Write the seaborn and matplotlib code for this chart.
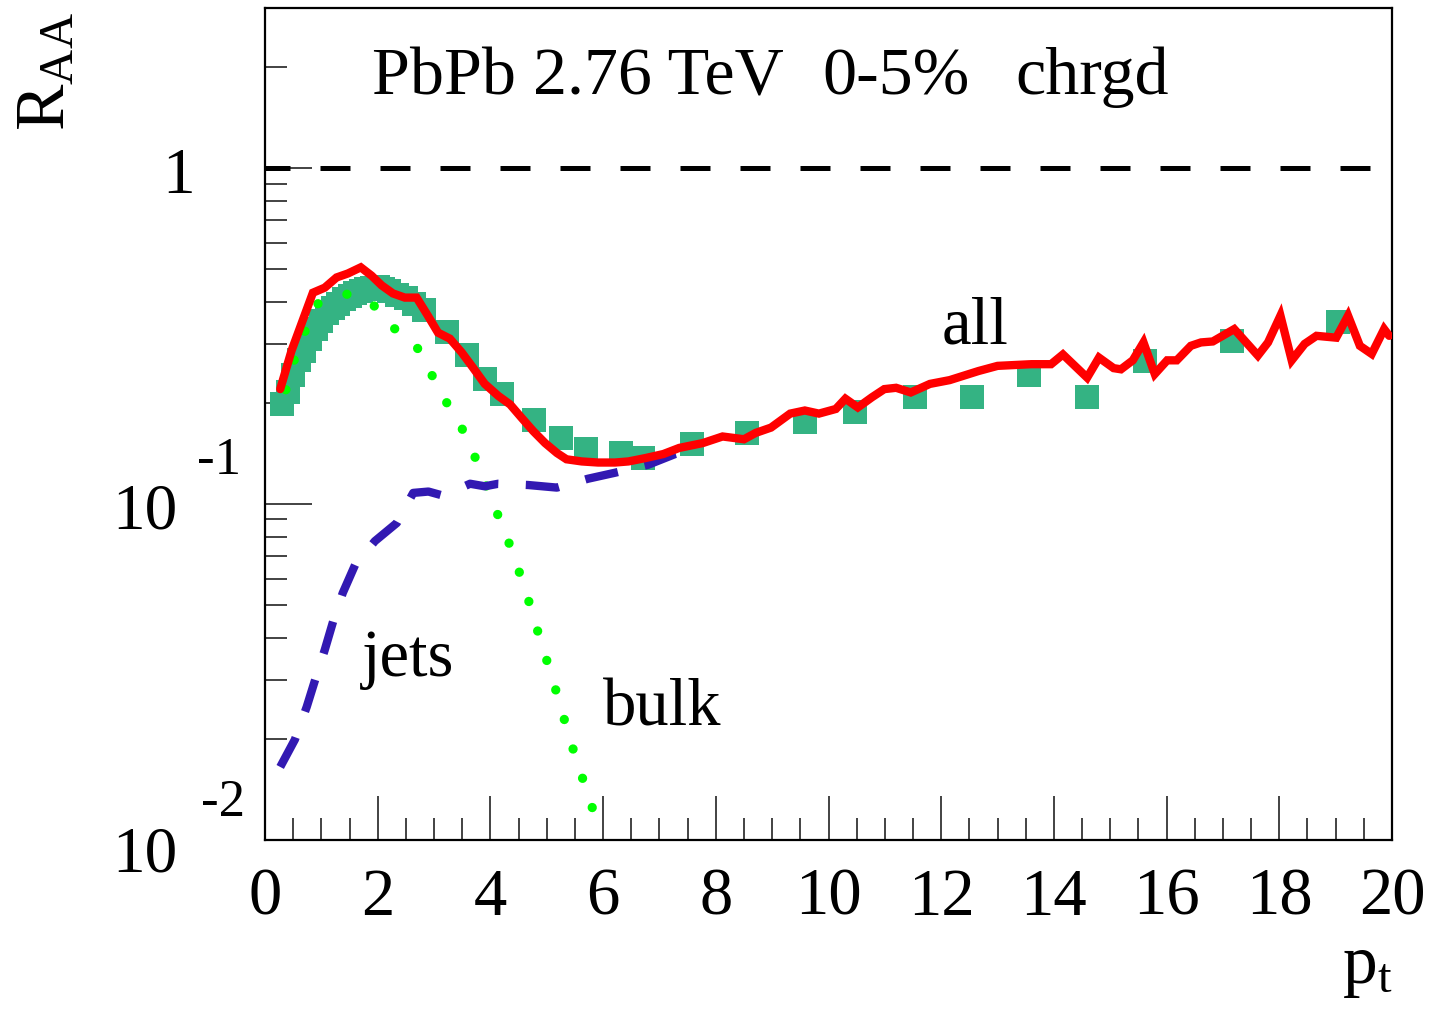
import numpy as np
import pandas as pd
import matplotlib
matplotlib.use("Agg")
import matplotlib.pyplot as plt
import seaborn as sns
from matplotlib.ticker import LogLocator, MultipleLocator, NullFormatter, FixedLocator

# ---------------- data ----------------
data_pt = [0.3, 0.4, 0.5, 0.6, 0.7, 0.8, 0.9, 1.0, 1.1, 1.2, 1.3, 1.4, 1.5, 1.6, 1.7,
           1.8, 1.9, 2.0, 2.1, 2.2, 2.35, 2.5, 2.65, 2.82, 3.23, 3.58, 3.90, 4.20,
           4.78, 5.25, 5.70, 6.32, 6.70, 7.58, 8.55, 9.59, 10.47, 11.53, 12.55,
           13.56, 14.59, 15.62, 17.16, 19.04]
data_raa = [0.198, 0.215, 0.243, 0.268, 0.285, 0.310, 0.333, 0.352, 0.370, 0.383,
            0.395, 0.407, 0.416, 0.424, 0.430, 0.436, 0.440, 0.442, 0.438, 0.430,
            0.420, 0.410, 0.395, 0.379, 0.326, 0.278, 0.236, 0.213, 0.178, 0.157,
            0.146, 0.142, 0.137, 0.151, 0.163, 0.175, 0.188, 0.209, 0.209, 0.243,
            0.209, 0.266, 0.305, 0.349]

all_pt = [0.27, 0.47, 0.85, 1.06, 1.27, 1.47, 1.70, 1.89, 2.07, 2.27, 2.48, 2.69,
          2.89, 3.07, 3.28, 3.49, 3.69, 3.90, 4.14, 4.35, 4.55, 4.76, 4.97, 5.18,
          5.35, 5.62, 5.91, 6.21, 6.45, 6.74, 7.07, 7.35, 7.77, 8.12, 8.50, 8.71,
          8.98, 9.32, 9.58, 9.83, 10.13, 10.30, 10.52, 10.77, 10.99, 11.20, 11.46,
          11.80, 12.15, 12.66, 13.00, 13.60, 13.95, 14.16, 14.59, 14.80, 15.06,
          15.19, 15.40, 15.59, 15.79, 16.01, 16.18, 16.43, 16.61, 16.82, 17.20,
          17.62, 17.80, 18.02, 18.22, 18.45, 18.66, 19.01, 19.22, 19.43, 19.64,
          19.86, 19.95]
all_raa = [0.220, 0.286, 0.426, 0.441, 0.473, 0.486, 0.507, 0.479, 0.448, 0.424,
           0.412, 0.412, 0.364, 0.324, 0.311, 0.283, 0.255, 0.228, 0.210, 0.198,
           0.181, 0.165, 0.152, 0.142, 0.136, 0.134, 0.133, 0.133, 0.134, 0.137,
           0.141, 0.147, 0.152, 0.159, 0.156, 0.163, 0.169, 0.186, 0.190, 0.186,
           0.192, 0.206, 0.194, 0.208, 0.220, 0.222, 0.215, 0.228, 0.234, 0.249,
           0.258, 0.261, 0.261, 0.279, 0.238, 0.273, 0.254, 0.252, 0.268, 0.303,
           0.244, 0.268, 0.268, 0.296, 0.303, 0.305, 0.332, 0.277, 0.303, 0.364,
           0.268, 0.300, 0.317, 0.313, 0.364, 0.296, 0.280, 0.332, 0.317]

jets_pt = [0.27, 0.53, 0.74, 0.89, 1.06, 1.21, 1.38, 1.60, 1.95, 2.34, 2.63, 2.90,
           3.16, 3.64, 3.90, 4.14, 4.67, 5.18, 5.73, 6.21, 6.80, 7.28, 7.60]
jets_raa = [0.0165, 0.0199, 0.0249, 0.030, 0.0368, 0.0448, 0.0544, 0.066, 0.0776,
            0.0879, 0.108, 0.109, 0.106, 0.115, 0.113, 0.115, 0.114, 0.112, 0.119,
            0.124, 0.131, 0.141, 0.146]

bulk_pt = [0.37, 0.52, 0.71, 0.92, 1.42, 1.86, 2.21, 2.65, 2.90, 3.14, 3.43, 3.67,
           3.86, 4.06, 4.27, 4.45, 4.63, 4.78, 4.94, 5.10, 5.25, 5.40, 5.56, 5.74,
           5.90, 5.96]
bulk_raa = [0.219, 0.269, 0.327, 0.394, 0.423, 0.404, 0.341, 0.303, 0.254, 0.211,
            0.177, 0.146, 0.121, 0.0993, 0.0817, 0.0673, 0.0550, 0.0451, 0.0369,
            0.0303, 0.0248, 0.0203, 0.0166, 0.0136, 0.0111, 0.0104]

x_ticks = [0, 2, 4, 6, 8, 10, 12, 14, 16, 18, 20]
x_tick_labels = ["0", "2", "4", "6", "8", "10", "12", "14", "16", "18", "20"]

title_parts = ["PbPb 2.76 TeV", "0-5%", "chrgd"]
curve_labels = ["all", "jets", "bulk"]

# ---------------- style ----------------
sns.set_style("ticks")
plt.rcParams["font.family"] = ["Liberation Serif", "DejaVu Serif"]
plt.rcParams["mathtext.fontset"] = "custom"
plt.rcParams["mathtext.rm"] = "Liberation Serif"
plt.rcParams["mathtext.it"] = "Liberation Serif:italic"
plt.rcParams["mathtext.default"] = "regular"
plt.rcParams["text.color"] = "black"
plt.rcParams["axes.labelcolor"] = "black"
plt.rcParams["xtick.color"] = "black"
plt.rcParams["ytick.color"] = "black"
plt.rcParams["xtick.labelcolor"] = "black"
plt.rcParams["ytick.labelcolor"] = "black"

fig = plt.figure(figsize=(14.31, 10.19), dpi=100)
ax = fig.add_axes([265 / 1431, 1 - 840 / 1019, (1392 - 265) / 1431, (840 - 8) / 1019])

C_DATA = "#34b383"
C_ALL = "#ff0000"
C_JETS = "#3219b2"
C_BULK = "#00ff00"

sns.scatterplot(x=data_pt, y=data_raa, marker="s", s=300, color=C_DATA,
                linewidth=0, ax=ax, zorder=2)
sns.lineplot(x=bulk_pt, y=bulk_raa, sort=False, estimator=None, color=C_BULK,
             linewidth=6.7, linestyle=(0, (0.01, 3.3)), dash_capstyle="round",
             ax=ax, zorder=3)
sns.lineplot(x=jets_pt, y=jets_raa, sort=False, estimator=None, color=C_JETS,
             linewidth=6.0, linestyle=(0, (4.0, 3.3)), dash_capstyle="butt",
             ax=ax, zorder=4)
sns.lineplot(x=all_pt, y=all_raa, sort=False, estimator=None, color=C_ALL,
             linewidth=6.0, solid_joinstyle="miter", ax=ax, zorder=5)
ax.axhline(1.0, color="black", linewidth=3.6, linestyle=(1, (6, 6)), zorder=1)

ax.set_yscale("log")
ax.set_xlim(0, 20)
ax.set_ylim(0.01, 3.0)

ax.set_xticks(x_ticks)
ax.set_xticklabels(x_tick_labels, fontsize=48)
ax.xaxis.set_minor_locator(MultipleLocator(0.5))
ax.yaxis.set_major_locator(FixedLocator([0.01, 0.1, 1.0]))
ax.yaxis.set_minor_locator(LogLocator(base=10, subs=np.arange(2, 10)))
ax.yaxis.set_major_formatter(NullFormatter())
ax.yaxis.set_minor_formatter(NullFormatter())

ax.tick_params(axis="both", which="both", direction="in", top=False, right=False,
               color="#222222", width=1.2)
ax.tick_params(axis="x", which="major", length=32, pad=20)
ax.tick_params(axis="x", which="minor", length=16)
ax.tick_params(axis="y", which="major", length=34)
ax.tick_params(axis="y", which="minor", length=16)
for sp in ax.spines.values():
    sp.set_linewidth(1.6)
    sp.set_color("black")

# y tick labels in ROOT style
ytr = ax.get_yaxis_transform()
ax.text((195 - 265) / 1127, 0.842, "1", transform=ytr, ha="right", va="baseline", fontsize=47)
ax.text((178 - 265) / 1127, 0.0848, "10", transform=ytr, ha="right", va="baseline", fontsize=47)
ax.text((241 - 265) / 1127, 0.123, "-1", transform=ytr, ha="right", va="baseline", fontsize=38)
ax.text((178 - 265) / 1127, 0.00808, "10", transform=ytr, ha="right", va="baseline", fontsize=47)
ax.text((245 - 265) / 1127, 0.0118, "-2", transform=ytr, ha="right", va="baseline", fontsize=38)

# title pieces
ax.text(1.90, 1.66, title_parts[0], ha="left", va="baseline", fontsize=49)
ax.text(9.90, 1.66, title_parts[1], ha="left", va="baseline", fontsize=49)
ax.text(13.31, 1.66, title_parts[2], ha="left", va="baseline", fontsize=49)

# curve labels
ax.text(12.0, 0.300, curve_labels[0], ha="left", va="baseline", fontsize=48)
ax.text(1.72, 0.0307, curve_labels[1], ha="left", va="baseline", fontsize=48)
ax.text(6.0, 0.0219, curve_labels[2], ha="left", va="baseline", fontsize=48)

# axis titles
fig.text(48 / 1431, 1 - 12 / 1019, r"$\mathregular{R_{AA}}$", rotation=90,
         ha="center", va="top", fontsize=50)
fig.text(1393 / 1431, 1 - 1000 / 1019, r"$\mathregular{p_{t}}$",
         ha="right", va="bottom", fontsize=50)

fig.savefig("out.png", dpi=100)
